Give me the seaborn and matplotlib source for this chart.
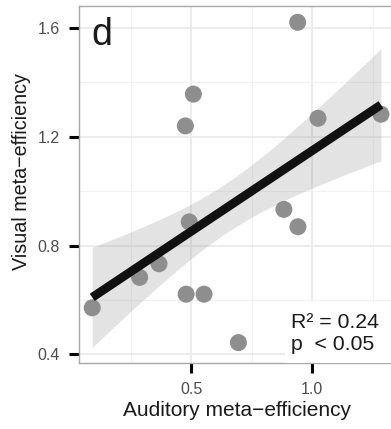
import numpy as np
import pandas as pd
import matplotlib
matplotlib.use("Agg")
import matplotlib.pyplot as plt
from matplotlib.patches import Rectangle
from matplotlib.ticker import FixedLocator
import seaborn as sns

# Per-subject metacognitive efficiency in each modality
auditory = [0.091, 0.287, 0.367, 0.492, 0.479, 0.553, 0.476, 0.509,
            0.695, 0.883, 0.941, 0.940, 1.024, 1.284]
visual = [0.571, 0.683, 0.733, 0.887, 0.621, 0.621, 1.240, 1.357,
          0.443, 0.933, 0.869, 1.621, 1.268, 1.283]

x_ticks = [0.5, 1.0]
y_ticks = [0.4, 0.8, 1.2, 1.6]
x_minor = [0.25, 0.75, 1.25]
y_minor = [0.6, 1.0, 1.4]

panel_label = "d"
stats_lines = ["R\u00b2 = 0.24", "p  < 0.05"]

df = pd.DataFrame({"auditory": auditory, "visual": visual})

sns.set_style("white")
plt.rcParams["font.family"] = ["Liberation Sans", "DejaVu Sans"]

W, H = 391, 429
fig = plt.figure(figsize=(W / 100, H / 100), dpi=100)
ax = fig.add_axes([79 / W, 66 / H, 316 / W, 357 / H])

# grid, major and minor
ax.xaxis.set_major_locator(FixedLocator(x_ticks))
ax.yaxis.set_major_locator(FixedLocator(y_ticks))
ax.xaxis.set_minor_locator(FixedLocator(x_minor))
ax.yaxis.set_minor_locator(FixedLocator(y_minor))
ax.grid(which="major", color="#ebebeb", lw=1.3, zorder=0)
ax.grid(which="minor", color="#f2f2f2", lw=0.8, zorder=0)
ax.set_axisbelow(True)

# confidence band around the least-squares fit
xv = np.asarray(auditory)
yv = np.asarray(visual)
n = len(xv)
slope, intercept = np.polyfit(xv, yv, 1)
resid = yv - (slope * xv + intercept)
s = np.sqrt(np.sum(resid ** 2) / (n - 2))
sxx = np.sum((xv - xv.mean()) ** 2)
xs = np.linspace(xv.min(), xv.max(), 80)
fit = slope * xs + intercept
se = s * np.sqrt(1 / n + (xs - xv.mean()) ** 2 / sxx)
band_k = 1.1  # half-width of the band, in standard errors
ax.fill_between(xs, fit - band_k * se, fit + band_k * se,
                color="#999999", alpha=0.27, lw=0, zorder=1)

sns.scatterplot(data=df, x="auditory", y="visual", ax=ax, s=150,
                color="#8e8e8e", edgecolor="none", linewidth=0, zorder=2)
sns.regplot(data=df, x="auditory", y="visual", ax=ax, scatter=False, ci=None,
            line_kws=dict(color="#111111", lw=6.3, solid_capstyle="butt",
                          zorder=3))

ax.set_xlim(0.0364, 0.5 + (395 - 191.2) / 242)
ax.set_ylim(0.368, 1.681)

for sp in ax.spines.values():
    sp.set_color("#a8a8a8")
    sp.set_linewidth(1.0)

ax.tick_params(axis="both", which="major", direction="out", length=7.2,
               width=2.2, color="black", labelsize=11.5, labelcolor="#4d4d4d",
               pad=6.5, bottom=True, left=True)
ax.tick_params(axis="both", which="minor", length=0)
ax.set_xticklabels(["0.5", "1.0"])
ax.set_yticklabels(["0.4", "0.8", "1.2", "1.6"])

ax.set_xlabel("Auditory meta\u2212efficiency", fontsize=15, color="#1a1a1a",
              labelpad=3)
ax.set_ylabel("Visual meta\u2212efficiency", fontsize=14.2, color="#1a1a1a",
              labelpad=5)
ax.yaxis.label.set_y(0.535)

fig.text(91 / W, 1 - 45 / H, panel_label, fontsize=27, color="#1a1a1a",
         ha="left", va="baseline")

# white label box holding the fit statistics
ax.add_patch(Rectangle(((285 - 79) / 316, 0), 1, (363 - 302) / 357,
                       transform=ax.transAxes, facecolor="white",
                       edgecolor="none", zorder=4))
for line, base in zip(stats_lines, [328.3, 350.5]):
    ax.text((291 - 79) / 316, (363 - base) / 357, line,
            transform=ax.transAxes, fontsize=15.3, color="#1a1a1a",
            ha="left", va="baseline", zorder=5)

fig.savefig("out.png", dpi=100)
